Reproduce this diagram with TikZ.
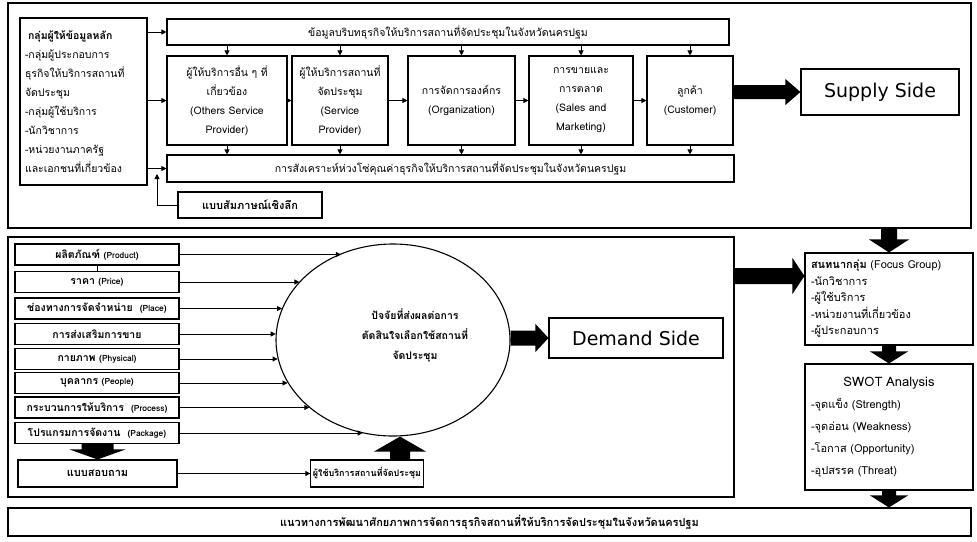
\documentclass[tikz,border=0pt]{standalone}
\usepackage{fontspec}
\newfontfamily\thai[Script=Thai]{Loma}
\newfontfamily\dv{DejaVu Sans}
\usetikzlibrary{arrows.meta,shapes.geometric,calc}
\newcommand\blockarr[5]{%
  \coordinate (ba-s) at #1;
  \coordinate (ba-e) at #2;
  \coordinate (ba-c) at ($(ba-e)!#5!(ba-s)$);
  \fill ($(ba-s)!#3!90:(ba-e)$) -- ($(ba-c)!#3!90:(ba-e)$) -- ($(ba-c)!#4!90:(ba-e)$)
    -- (ba-e) -- ($(ba-c)!#4!-90:(ba-e)$) -- ($(ba-c)!#3!-90:(ba-e)$)
    -- ($(ba-s)!#3!-90:(ba-e)$) -- cycle;}
\newcommand\sml[1]{{\fontsize{8.5}{10}\selectfont #1}}
\tikzset{
  frame/.style={draw, line width=1.1pt, inner sep=0pt},
  bx/.style={draw, line width=1.1pt, inner sep=2pt, align=center,
     font=\thai\fontsize{10.5}{19}\selectfont},
  fbx/.style={bx, minimum width=164pt, minimum height=21pt,
     font=\thai\bfseries\fontsize{10.5}{11}\selectfont},
  arr/.style={-{Triangle[length=5pt,width=5pt]}, line width=0.9pt},
  ln/.style={line width=0.9pt}
}
\begin{document}
\begin{tikzpicture}[x=1pt,y=-1pt]
\useasboundingbox (0,0) rectangle (977,541);
\fill[white] (0,0) rectangle (977,541);

% ---------- top section ----------
\node[frame, minimum width=963pt, minimum height=225pt] (topframe) at (489.5,115.5) {};
\node[bx, minimum width=127pt, minimum height=167pt, text width=117pt, align=left,
  font=\thai\fontsize{10.5}{19}\selectfont] (key) at (83.5,101.5)
 {\hspace*{3pt}{\bfseries กลุ่มผู้ให้ข้อมูลหลัก}\\-กลุ่มผู้ประกอบการ\\ธุรกิจให้บริการสถานที่\\จัดประชุม\\-กลุ่มผู้ใช้บริการ\\-นักวิชาการ\\-หน่วยงานภาครัฐ\\และเอกชนที่เกี่ยวข้อง};
\node[bx, minimum width=562pt, minimum height=26pt] (topbar) at (448,32)
 {ข้อมูลบริบทธุรกิจให้บริการสถานที่จัดประชุมในจังหวัดนครปฐม};
\node[bx, minimum width=120pt, minimum height=89pt, text width=114pt] (b1) at (227,100.5)
 {ผู้ให้บริการอื่น ๆ ที่\\เกี่ยวข้อง\\(Others Service\\Provider)};
\node[bx, minimum width=96pt, minimum height=89pt, text width=92pt] (b2) at (340,100.5)
 {ผู้ให้บริการสถานที่\\จัดประชุม\\(Service\\Provider)};
\node[bx, minimum width=107pt, minimum height=89pt, text width=102pt] (b3) at (461.5,100.5)
 {การจัดการองค์กร\\(Organization)};
\node[bx, minimum width=104pt, minimum height=89pt, text width=99pt] (b4) at (581,100.5)
 {การขายและ\\การตลาด\\(Sales and\\Marketing)};
\node[bx, minimum width=86pt, minimum height=89pt, text width=81pt] (b5) at (690,100.5)
 {ลูกค้า\\(Customer)\\[6pt]};
\node[bx, minimum width=567pt, minimum height=27pt] (botbar) at (450.5,168.5)
 {การสังเคราะห์ห่วงโซ่คุณค่าธุรกิจให้บริการสถานที่จัดประชุมในจังหวัดนครปฐม};
\node[bx, minimum width=144pt, minimum height=26pt, font=\thai\bfseries\fontsize{11}{12}\selectfont] (iv) at (250,205)
 {แบบสัมภาษณ์เชิงลึก};
\node[bx, minimum width=158pt, minimum height=46pt, font=\dv\fontsize{19}{22}\selectfont] (supply) at (880,92)
 {Supply Side};

\draw[arr] (key.east |- topbar.west) -- (topbar.west);
\draw[arr] (key.east |- b1.west) -- (b1.west);
\draw[arr] (key.east |- botbar.west) -- (botbar.west);
\coordinate (ivend) at (157,174);
\draw[arr] (iv.west) -| (ivend);
\foreach \b in {b1,b2,b3,b4,b5}{
  \draw[arr] (topbar.south -| \b.north) -- (\b.north);
  \draw[arr] (\b.south) -- (botbar.north -| \b.south);
}
\draw[arr] (b1) -- (b2);
\draw[arr] (b2) -- (b3);
\draw[arr] (b3) -- (b4);
\draw[arr] (b4) -- (b5);
\blockarr{(b5.east |- supply.west)}{(supply.west)}{7pt}{13pt}{15pt}

% ---------- lower section ----------
\node[frame, minimum width=726pt, minimum height=260pt] (lowframe) at (371,367) {};
\node[fbx] (p1) at (97,254.5) {ผลิตภัณฑ์ \sml{(Product)}};
\node[fbx] (p2) at (97,282) {ราคา \sml{(Price)}};
\node[fbx] (p3) at (97,308.5) {ช่องทางการจัดจำหน่าย \ \sml{(Place)}};
\node[fbx] (p4) at (97,334) {การส่งเสริมการขาย};
\node[fbx] (p5) at (97,359) {กายภาพ \sml{(Physical)}};
\node[fbx] (p6) at (97,383) {บุคลากร \sml{(People)}};
\node[fbx] (p7) at (97,407.5) {กระบวนการให้บริการ \ \sml{(Process)}};
\node[fbx] (p8) at (97,433) {โปรแกรมการจัดงาน \ \sml{(Package)}};
\draw[ln] (p1.south) -- (p2.north);

\node[draw, ellipse, line width=1.1pt, minimum width=234pt, minimum height=192pt, inner sep=0pt] (ell) at (393,340) {};
\node[align=center, font=\thai\bfseries\fontsize{10.5}{20}\selectfont] (elltext) at (415,335)
 {ปัจจัยที่ส่งผลต่อการ\\ตัดสินใจเลือกใช้สถานที่\\จัดประชุม};
\foreach \i/\a in {1/121.9,2/148.1,3/164.1,4/177.1,5/189.4,6/202.3,7/219.1,8/252.7}
  \draw[arr] (p\i.east) -- (p\i.east -| ell.\a);

\node[bx, minimum width=174pt, minimum height=40pt, font=\dv\fontsize{19}{22}\selectfont] (demand) at (636,338)
 {Demand Side};
\blockarr{(demand.west -| ell.east)}{(demand.west)}{7.5pt}{14pt}{13pt}

\node[bx, minimum width=159pt, minimum height=27pt, font=\thai\bfseries\fontsize{11}{12}\selectfont] (q) at (97.5,473.5)
 {แบบสอบถาม};
\node[bx, minimum width=110pt, minimum height=27pt, font=\thai\bfseries\fontsize{9}{10}\selectfont] (u) at (367,473.5)
 {ผู้ใช้บริการสถานที่จัดประชุม};
\draw[arr] (q) -- (u);
\blockarr{(p8.south -| q.north)}{(q.north)}{16pt}{28pt}{10pt}
\coordinate (uarr) at ([xshift=33pt]u.north);
\blockarr{(uarr)}{(uarr |- ell.south)}{10pt}{26pt}{15pt}

% ---------- right column ----------
\node[bx, minimum width=168pt, minimum height=92pt, text width=156pt, align=left,
  font=\thai\fontsize{11}{16.5}\selectfont] (focus) at (889,299)
 {{\bfseries สนทนากลุ่ม} (Focus Group)\\-นักวิชาการ\\-ผู้ใช้บริการ\\-หน่วยงานที่เกี่ยวข้อง\\-ผู้ประกอบการ};
\node[bx, minimum width=168pt, minimum height=126pt, text width=156pt, align=left,
  font=\thai\fontsize{11}{22}\selectfont] (swot) at (889,427)
 {\makebox[156pt]{\fontsize{13}{14}\selectfont SWOT Analysis}\\-จุดแข็ง (Strength)\\-จุดอ่อน (Weakness)\\-โอกาส (Opportunity)\\-อุปสรรค (Threat)};
\node[bx, minimum width=963pt, minimum height=28pt, font=\thai\bfseries\fontsize{11}{12}\selectfont] (final) at (489.5,522)
 {แนวทางการพัฒนาศักยภาพการจัดการธุรกิจสถานที่ให้บริการจัดประชุมในจังหวัดนครปฐม};

\blockarr{(topframe.south -| focus.north)}{(focus.north)}{8pt}{20pt}{13pt}
\coordinate (fa) at (lowframe.east |- 0,276);
\blockarr{(fa)}{(fa -| focus.west)}{8pt}{18pt}{12pt}
\blockarr{(focus.south)}{(swot.north)}{7pt}{19pt}{12pt}
\blockarr{(swot.south)}{(final.north -| swot.south)}{7pt}{19pt}{12pt}
\end{tikzpicture}
\end{document}
